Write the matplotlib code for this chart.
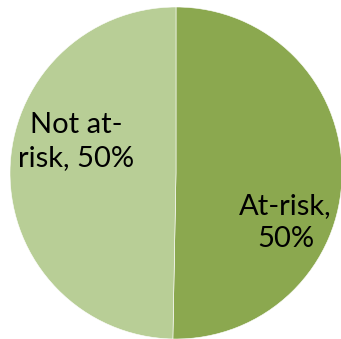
import matplotlib
matplotlib.use("Agg")
import matplotlib.pyplot as plt

categories = ["At-risk", "Not at-risk"]
values = [50.3, 49.7]
shown_pct = ["50%", "50%"]
colors = ["#8BA84F", "#B8CE96"]

W, H = 341, 339
fig = plt.figure(figsize=(W / 100, H / 100), dpi=100)
cx, cy, r = 176, 166, 166
ax = fig.add_axes([(cx - r) / W, (cy - r) / H, 2 * r / W, 2 * r / H])
ax.pie(values, colors=colors, startangle=90, counterclock=False,
       wedgeprops=dict(edgecolor="white", linewidth=0.4), radius=1)
ax.set_xlim(-1, 1)
ax.set_ylim(-1, 1)
ax.set_axis_off()

fs = 21
ax.text(0.66, -0.30, f"{categories[0]},\n{shown_pct[0]}", ha="center", va="center",
        fontsize=fs, family="Lato", linespacing=1.35, color="black")
ax.text(-0.60, 0.19, "Not at-\nrisk, " + shown_pct[1], ha="center", va="center",
        fontsize=fs, family="Lato", linespacing=1.35, color="black")

fig.savefig("out.png", dpi=100)
